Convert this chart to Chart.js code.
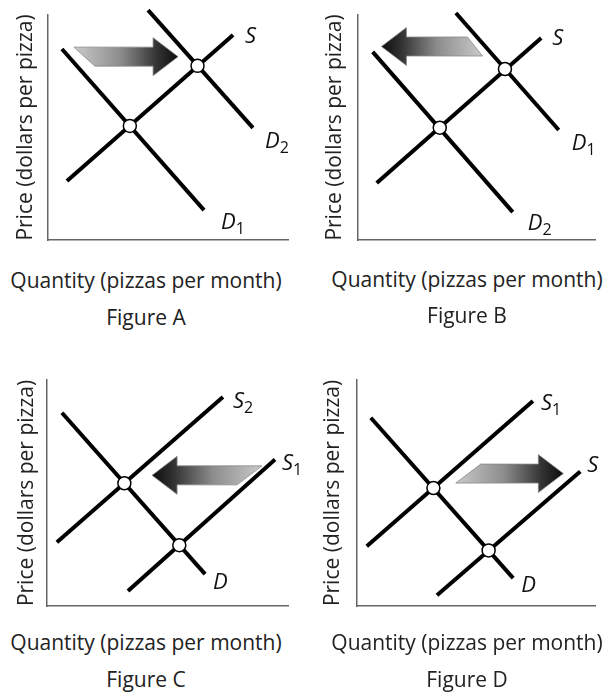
<!DOCTYPE html>
<html>
<head>
<meta charset="utf-8">
<script src="https://cdn.jsdelivr.net/npm/chart.js@4"></script>
<style>
  body { margin: 0; width: 603px; height: 698px; overflow: hidden; position: relative; background: #fff;
         font-family: "Open Sans", sans-serif; color: #222; }
  canvas { position: absolute; }
  .cap { position: absolute; width: 300px; text-align: center; font-size: 21px; line-height: 24px; white-space: nowrap; }
</style>
</head>
<body>
<canvas id="chartA" width="300" height="260" style="left:0;top:0"></canvas>
<canvas id="chartB" width="303" height="260" style="left:300px;top:0"></canvas>
<canvas id="chartC" width="303" height="260" style="left:0;top:360px"></canvas>
<canvas id="chartD" width="303" height="260" style="left:300px;top:360px"></canvas>

<div class="cap" id="qA" style="left:-4px;top:268px"></div>
<div class="cap" id="fA" style="left:-4px;top:305px"></div>
<div class="cap" id="qB" style="left:317px;top:267px"></div>
<div class="cap" id="fB" style="left:317px;top:303px"></div>
<div class="cap" id="qC" style="left:-4px;top:630px"></div>
<div class="cap" id="fC" style="left:-4px;top:667px"></div>
<div class="cap" id="qD" style="left:317px;top:630px"></div>
<div class="cap" id="fD" style="left:317px;top:667px"></div>

<script>
// Testuak
const yTitle = "Price (dollars per pizza)";
const xTitle = "Quantity (pizzas per month)";
const figureNames = ["Figure A", "Figure B", "Figure C", "Figure D"];

// Figure A: eskaria handitzen da (quantity 0-100, price 0-100)
const aDemand1 = [[5.8, 84.9], [65.0, 13.3]];
const aDemand2 = [[41.7, 102.2], [85.4, 49.8]];
const aSupply = [[7.9, 26.2], [77.1, 91.1]];
const aEquilibria = [[34.1, 50.7], [62.3, 77.4]];
const aShift = [[10.8, 81.5], [54.2, 81.5]];

// Figure B: eskaria jaisten da
const bDemand1 = [[41.3, 100.9], [84.7, 48.9]];
const bDemand2 = [[6.2, 83.6], [65.3, 12.4]];
const bSupply = [[7.9, 25.3], [77.3, 89.8]];
const bEquilibria = [[34.5, 49.9], [62.0, 76.0]];
const bShift = [[52.5, 86.0], [9.9, 86.0]];

// Figure C: eskaintza jaisten da
const cDemand = [[6.2, 85.5], [65.6, 14.1]];
const cSupply1 = [[33.6, 6.6], [94.6, 64.8]];
const cSupply2 = [[4.1, 28.2], [73.0, 92.5]];
const cEquilibria = [[32.1, 54.3], [54.9, 26.9]];
const cShift = [[89.2, 57.8], [43.6, 57.8]];

// Figure D: eskaintza handitzen da
const dDemand = [[5.8, 83.3], [65.6, 12.3]];
const dSupply1 = [[4.1, 26.4], [73.9, 90.7]];
const dSupply2 = [[33.6, 4.8], [93.8, 59.5]];
const dEquilibria = [[32.1, 52.2], [55.3, 24.6]];
const dShift = [[41.5, 58.6], [86.7, 58.6]];

const pts = (arr) => arr.map(([x, y]) => ({ x, y }));

function curve(data, tag, sub, offset) {
  return {
    data: pts(data), showLine: true, borderColor: "#000", borderWidth: 4, borderCapStyle: "butt",
    pointRadius: 0, clip: false, order: 1, tag, sub, tagOffset: offset,
  };
}

function equilibria(data) {
  return {
    data: pts(data), showLine: false, pointRadius: 6.5, pointBackgroundColor: "#fff",
    pointBorderColor: "#000", pointBorderWidth: 1.5, clip: false, order: 0,
  };
}

// Gezia eta kurben izenak marrazteko plugina
const shiftMarks = {
  id: "shiftMarks",
  beforeDatasetsDraw(chart, args, opts) {
    const { ctx, scales: { x, y } } = chart;
    const [from, to] = opts.arrow;
    const x0 = x.getPixelForValue(from[0]);
    const x1 = x.getPixelForValue(to[0]);
    const yc = y.getPixelForValue(from[1]);
    const dir = Math.sign(x1 - x0);
    const base = x1 - dir * 25;
    const topTail = opts.trim === "top" ? x0 + dir * opts.slant : x0;
    const botTail = opts.trim === "bottom" ? x0 + dir * opts.slant : x0;
    const grad = ctx.createLinearGradient(x0, 0, x1, 0);
    grad.addColorStop(0, "#cacaca");
    grad.addColorStop(0.45, "#8c8c8c");
    grad.addColorStop(0.8, "#333");
    grad.addColorStop(1, "#0c0c0c");
    ctx.save();
    ctx.beginPath();
    ctx.moveTo(topTail, yc - 9.5);
    ctx.lineTo(base, yc - 9.5);
    ctx.lineTo(base, yc - 19);
    ctx.lineTo(x1, yc);
    ctx.lineTo(base, yc + 19);
    ctx.lineTo(base, yc + 9.5);
    ctx.lineTo(botTail, yc + 9.5);
    ctx.closePath();
    ctx.fillStyle = grad;
    ctx.fill();
    ctx.strokeStyle = "#888";
    ctx.lineWidth = 0.8;
    ctx.stroke();
    ctx.restore();
  },
  afterDatasetsDraw(chart) {
    const { ctx } = chart;
    ctx.save();
    ctx.fillStyle = "#111";
    ctx.textBaseline = "alphabetic";
    chart.data.datasets.forEach((ds, i) => {
      if (!ds.tag) return;
      const meta = chart.getDatasetMeta(i);
      const end = meta.data[meta.data.length - 1];
      const px = end.x + ds.tagOffset[0];
      const py = end.y + ds.tagOffset[1];
      ctx.font = 'italic 22px "Open Sans"';
      ctx.fillText(ds.tag, px, py);
      if (ds.sub) {
        const w = ctx.measureText(ds.tag).width;
        ctx.font = '16px "Open Sans"';
        ctx.fillText(ds.sub, px + w, py + 5);
      }
    });
    ctx.restore();
  },
};

function makeChart(id, datasets, arrow, padding, titlePad) {
  const ctx = document.getElementById(id).getContext("2d");
  const axis = (extra) => Object.assign({
    type: "linear", min: 0, max: 100,
    ticks: { display: false },
    grid: { display: false, drawTicks: false },
    border: { display: true, color: "#666", width: 1.5 },
  }, extra);

  new Chart(ctx, {
    type: "scatter",
    data: { datasets },
    options: {
      responsive: false,
      animation: false,
      events: [],
      layout: { padding },
      plugins: {
        legend: { display: false },
        tooltip: { enabled: false },
        shiftMarks: arrow,
      },
      scales: {
        x: axis({ position: "bottom" }),
        y: axis({
          position: "left",
          title: {
            display: true, text: yTitle, color: "#222",
            font: { family: "Open Sans", size: 21, lineHeight: 1.2 },
            padding: titlePad,
          },
        }),
      },
    },
    plugins: [shiftMarks],
  });
}

makeChart("chartA", [
  equilibria(aEquilibria),
  curve(aSupply, "S", "", [12, 8]),
  curve(aDemand2, "D", "2", [12, 20]),
  curve(aDemand1, "D", "1", [17, 19]),
], { arrow: aShift, trim: "bottom", slant: 21 },
  { top: 15, right: 12, bottom: 20, left: 0 }, { top: 13.4, bottom: 9.4 });

makeChart("chartB", [
  equilibria(bEquilibria),
  curve(bSupply, "S", "", [11, 7]),
  curve(bDemand1, "D", "1", [13, 20]),
  curve(bDemand2, "D", "2", [15, 18]),
], { arrow: bShift, trim: "top", slant: 15 },
  { top: 15, right: 3, bottom: 20, left: 0 }, { top: 22.4, bottom: 10.4 });

makeChart("chartC", [
  equilibria(cEquilibria),
  curve(cSupply2, "S", "2", [10, 11]),
  curve(cSupply1, "S", "1", [7, 10]),
  curve(cDemand, "D", "", [8, 15]),
], { arrow: cShift, trim: "bottom", slant: 25 },
  { top: 20, right: 15, bottom: 14, left: 0 }, { top: 14.4, bottom: 7.4 });

makeChart("chartD", [
  equilibria(dEquilibria),
  curve(dSupply1, "S", "1", [8, 9]),
  curve(dSupply2, "S", "", [7, 0]),
  curve(dDemand, "D", "", [8, 14]),
], { arrow: dShift, trim: "top", slant: 25 },
  { top: 20, right: 5, bottom: 14, left: 0 }, { top: 20.4, bottom: 11.4 });

// Irudien azpiko testuak
["A", "B", "C", "D"].forEach((k, i) => {
  document.getElementById("q" + k).textContent = xTitle;
  document.getElementById("f" + k).textContent = figureNames[i];
});
</script>
</body>
</html>
